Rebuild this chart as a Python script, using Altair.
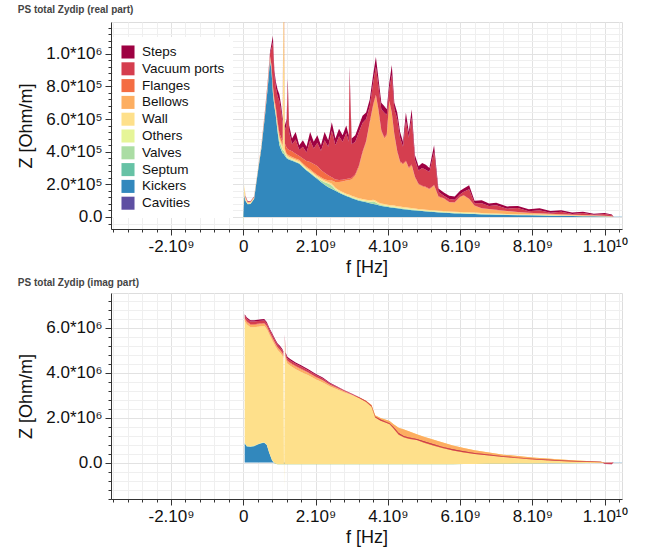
import altair as alt
import pandas as pd

FONT = "Liberation Sans"

stack_order = ["Cavities", "Kickers", "Septum", "Valves", "Others", "Wall",
               "Bellows", "Flanges", "Vacuum ports", "Steps"]
legend_order = ["Steps", "Vacuum ports", "Flanges", "Bellows", "Wall",
                "Others", "Valves", "Septum", "Kickers", "Cavities"]
palette = ["#9e0142", "#d53e4f", "#f46d43", "#fdae61", "#fee08b",
           "#e6f598", "#abdda4", "#66c2a5", "#3288bd", "#5e4fa2"]

# ---------------- real part (values in kOhm/m), frequency in GHz ----------------
re_freq = [0.0, 0.01, 0.03, 0.06, 0.12, 0.2, 0.3, 0.4, 0.5, 0.6, 0.68, 0.74, 0.78, 0.82, 0.86, 0.9,
           0.95, 1.0, 1.05, 1.09, 1.12, 1.15, 1.2, 1.23, 1.27, 1.35, 1.45, 1.55, 1.65, 1.75, 1.85,
           1.95, 2.05, 2.15, 2.25, 2.35, 2.45, 2.55, 2.65, 2.75, 2.85, 2.92, 2.94, 3.0, 3.1, 3.2,
           3.3, 3.4, 3.5, 3.6, 3.67, 3.74, 3.82, 3.9, 3.97, 4.04, 4.11, 4.18, 4.26, 4.34, 4.42,
           4.5, 4.58, 4.66, 4.75, 4.85, 4.95, 5.05, 5.15, 5.28, 5.4, 5.55, 5.7, 5.85, 6.0, 6.1,
           6.25, 6.4, 6.6, 6.8, 7.0, 7.3, 7.6, 7.9, 8.2, 8.5, 8.8, 9.1, 9.4, 9.7, 10.0, 10.2,
           10.25, 10.48]
re_cavities = [0, 0, 0, 0, 0, 0, 0, 0, 0, 0, 0, 0, 0, 0, 0, 0, 0, 0, 0, 0, 0, 0, 0, 0, 0, 0, 0, 0, 0, 0, 0,
               0, 0, 0, 0, 0, 0, 0, 0, 0, 0, 0, 0, 0, 0, 0, 0, 0, 0, 0, 0, 0, 0, 0, 0, 0, 0, 0, 0, 0, 0,
               0, 0, 0, 0, 0, 0, 0, 0, 0, 0, 0, 0, 0, 0, 0, 0, 0, 0, 0, 0, 0, 0, 0, 0, 0, 0, 0, 0, 0, 0,
               0, 0, 0]
re_kickers = [0, 40, 135, 100, 78, 80, 110, 270, 420, 620, 800, 960, 900, 760, 680, 620,
              520, 440, 410, 390, 385, 375, 360, 355, 350, 345, 335, 326, 305, 285, 268,
              250, 232, 214, 197, 182, 172, 160, 148, 138, 128, 122, 121, 115, 107, 100,
              95, 90, 84, 79, 76, 72, 68, 65, 62, 59, 57, 55, 53, 51, 48,
              46, 44, 42, 40, 38, 36, 34, 32, 30, 28, 26, 24, 22, 21, 20,
              19, 18, 16, 15, 14, 12, 11, 10, 9, 8, 7, 6, 5, 4, 3, 2,
              2, 2]
re_septum = [0, 0, 1, 1, 1, 1, 1, 1, 1, 1, 1, 1, 1, 1, 1, 1, 1, 1, 1, 1, 1, 1, 1, 1, 1, 1, 1, 1, 1, 1, 1,
             1, 1, 1, 1, 1, 1, 1, 1, 1, 1, 1, 1, 1, 1, 1, 1, 1, 1, 1, 1, 1, 1, 1, 1, 1, 1, 1, 1, 1, 1,
             1, 1, 1, 1, 1, 1, 1, 1, 1, 1, 1, 1, 1, 1, 1, 1, 1, 1, 1, 1, 1, 1, 1, 1, 0, 0, 0, 0, 0, 0, 0,
             0, 0]
re_valves = [0, 0, 0, 0, 0, 0, 0, 0, 0, 0, 0, 0, 0, 0, 0, 10, 20, 25, 25, 20, 20, 15, 8, 6, 5, 4, 4, 4, 4, 4, 5,
             5, 6, 10, 15, 22, 20, 8, 5, 4, 4, 4, 4, 4, 4, 4, 4, 5, 8, 15, 12, 6, 4, 4, 4, 4, 4, 4, 3, 3, 3,
             3, 3, 3, 3, 2, 2, 2, 2, 2, 2, 2, 2, 2, 2, 2, 2, 2, 1, 1, 1, 1, 1, 1, 1, 1, 1, 0, 0, 0, 0, 0,
             0, 0]
re_others = [-55, 1, 8, 3, 2, 2, 2, 2, 2, 2, 2, 2, 2, 3, 3, 3, 3, 3, 3, 3, 3, 3, 2, 2, 2, 2, 2, 2, 2, 2, 2,
             2, 2, 2, 2, 2, 2, 2, 2, 2, 2, 2, 2, 2, 2, 2, 2, 2, 2, 2, 2, 2, 2, 2, 2, 2, 2, 2, 2, 2, 2,
             2, 2, 2, 2, 2, 2, 2, 2, 2, 2, 2, 2, 2, 2, 2, 2, 2, 2, 2, 2, 1, 1, 1, 1, 1, 1, 1, 1, 1, 1, 0,
             0, 0]
re_wall = [0, 8, 55, 12, 6, 6, 6, 6, 7, 8, 10, 10, 12, 14, 14, 14, 14, 14, 14, 14, 1200, 14, 10, 10, 10, 8, 8, 8, 8, 8, 8,
           8, 8, 8, 8, 8, 8, 8, 8, 8, 8, 8, 8, 8, 8, 8, 8, 8, 8, 8, 8, 8, 8, 8, 8, 8, 8, 8, 7, 7, 7,
           7, 7, 7, 6, 6, 6, 6, 6, 6, 5, 5, 5, 5, 5, 5, 5, 4, 4, 4, 4, 4, 3, 3, 3, 3, 2, 2, 2, 2, 1, 1,
           0, 0]
re_bellows = [0, 0, 0, 5, 4, 3, 3, 3, 4, 5, 6, 6, 8, 10, 10, 12, 12, 12, 12, 12, 12, 12, 8, 8, 8, 8, 8, 8, 8, 8, 8,
              8, 8, 8, 8, 10, 20, 35, 50, 65, 80, 88, 90, 100, 130, 190, 280, 350, 470, 580, 640, 560, 440, 400, 420, 630, 560, 430, 330, 270, 260,
              280, 240, 260, 190, 150, 140, 135, 125, 150, 85, 75, 55, 55, 90, 100, 80, 40, 28, 24, 20, 16, 12, 9, 7, 6, 5, 4, 3, 2, 2, 1,
              0, 0]
re_flanges = [0, 0, 2, 2, 2, 1, 1, 1, 2, 3, 4, 5, 10, 15, 15, 15, 15, 20, 20, 25, 25, 30, 35, 35, 35, 35, 30, 25, 30, 35, 45,
              50, 55, 45, 40, 30, 20, 15, 12, 10, 10, 10, 10, 10, 10, 10, 10, 10, 10, 10, 10, 10, 8, 8, 8, 8, 8, 8, 8, 6, 6,
              6, 6, 6, 5, 5, 5, 5, 5, 5, 4, 4, 3, 3, 3, 3, 3, 3, 2, 2, 2, 2, 2, 1, 1, 1, 1, 1, 1, 1, 1, 0,
              0, 0]
re_vacuum = [0, 1, 1, 4, 2, 1, 0, 0, 2, 7, 11, 16, 97, 267, 147, 120, 155, 195, 155, 105, 100, 80, 141, 393, 109, 42, 87, 36, 72, 52, 133,
             96, 143, 117, 199, 175, 287, 211, 269, 232, 282, 225, 644, 205, 198, 205, 175, 134, 97, 135, 171, 141, 129, 152, 120, 68, 230, 152, 196, 145, 103,
             245, 182, 289, 103, 81, 108, 105, 102, 204, 28, 15, 18, 15, 16, 22, 58, 14, 30, 18, 28, 14, 24, 9, 19, 6, 15, 4, 12, 3, 10, 7,
             0, 0]
re_steps = [0, 0, 2, 3, 3, 2, 2, 2, 2, 4, 6, 10, 30, 40, 30, 35, 40, 40, 40, 30, 30, 30, 35, 40, 40, 35, 45, 30, 40, 35, 50,
            40, 45, 35, 50, 40, 50, 40, 45, 40, 45, 40, 40, 35, 40, 40, 45, 40, 40, 50, 60, 50, 40, 40, 35, 40, 60, 40, 40, 35, 30,
            50, 35, 50, 30, 25, 30, 30, 25, 40, 20, 20, 20, 20, 20, 20, 25, 15, 18, 15, 15, 14, 13, 12, 12, 11, 10, 9, 8, 7, 6, 5,
            0, 0]

# ---------------- imaginary part (values in kOhm/m), frequency in GHz ----------------
im_freq = [0.04, 0.1, 0.2, 0.3, 0.4, 0.5, 0.58, 0.65, 0.72, 0.8, 0.88, 0.95, 1.02, 1.08, 1.11, 1.13,
           1.15, 1.17, 1.22, 1.3, 1.45, 1.6, 1.8, 2.0, 2.2, 2.4, 2.6, 2.8, 3.0, 3.2, 3.4, 3.55,
           3.65, 3.8, 3.95, 4.05, 4.15, 4.3, 4.45, 4.6, 4.8, 5.0, 5.25, 5.5, 5.8, 6.1, 6.4, 6.8,
           7.2, 7.6, 8.0, 8.5, 9.0, 9.5, 9.9, 10.0, 10.2, 10.25, 10.48]
im_cavities = [0, 0, 0, 0, 0, 0, 0, 0, 0, 0, 0, 0, 0, 0, 0, 0, 0, 0, 0, 0, 0, 0, 0, 0, 0, 0, 0, 0, 0, 0,
               0, 0, 0, 0, 0, 0, 0, 0, 0, 0, 0, 0, 0, 0, 0, 0, 0, 0, 0, 0, 0, 0, 0, 0, 0, 0, 0, 0, 0]
im_kickers = [850, 720, 700, 730, 800, 860, 880, 780, 420, 80, -40, -60, -60, -60, -60, -60,
              -60, -60, -60, -60, -60, -60, -60, -60, -60, -60, -60, -60, -60, -60, -60, -60,
              -60, -60, -60, -60, -60, -60, -60, -60, -60, -60, -60, -60, -60, -50, -48, -45,
              -40, -35, -30, -25, -20, -15, -10, -5, 0, 10, 10]
im_septum = [10, 10, 10, 10, 10, 10, 10, 10, 10, 10, -10, -20, -20, -20, -20, -20,
             -20, -20, -20, -20, -20, -20, -20, -20, -20, -20, -20, -20, -20, -20, -20, -20,
             -20, -20, -20, -20, -20, -20, -20, -20, -20, -20, -20, -20, -20, -15, -14, -13,
             -12, -10, -10, -8, -6, -5, -4, 0, 0, 0, 0]
im_valves = [5, 5, 5, 5, 5, 5, 5, 5, 5, 5, 3, 0, 0, 0, 0, 0, 0, 0, 0, 0, 0, 0, 0, 0, 0, 0, 0, 0, 0, 0,
             0, 0, 0, 0, 0, 0, 0, 0, 0, 0, 0, 0, 0, 0, 0, 0, 0, 0, 0, 0, 0, 0, 0, 0, 0, 0, 0, 0, 0]
im_others = [5, 5, 5, 5, 5, 5, 5, 5, 5, 5, 3, 0, 0, 0, 0, 0, 0, 0, 0, 0, 0, 0, 0, 0, 0, 0, 0, 0, 0, 0,
             0, 0, 0, 0, 0, 0, 0, 0, 0, 0, 0, 0, 0, 0, 0, 0, 0, 0, 0, 0, 0, 0, 0, 0, 0, 0, 0, 0, 0]
im_wall = [5420, 5400, 5300, 5270, 5220, 5180, 5170, 5140, 5250, 5340, 5234, 5080, 4960, 4830, 4730, -1100,
           5320, 4680, 4480, 4380, 4230, 4110, 3960, 3780, 3640, 3460, 3330, 3200, 3090, 2980, 2830, 2640,
           2180, 2060, 1980, 1930, 1790, 1630, 1550, 1460, 1340, 1230, 1110, 980, 840, 715, 612, 508,
           402, 335, 270, 203, 141, 90, 54, 5, 0, 0, 0]
im_bellows = [100, 100, 100, 100, 100, 100, 100, 100, 100, 100, 100, 100, 100, 100, 100, 0,
              150, 100, 110, 110, 110, 110, 100, 95, 85, 70, 55, 40, 10, -30, -60, -80,
              -100, -120, -130, -150, -180, -310, -350, -330, -260, -265, -270, -250, -225, -200, -170, -135,
              -105, -95, -90, -75, -62, -40, -25, -5, 0, 0, 0]
im_flanges = [30, 30, 30, 30, 30, 30, 30, 30, 30, 30, 30, 30, 30, 30, 30, 0,
              30, 30, 30, 30, 30, 30, 25, 20, 15, 10, 10, 8, 5, 5, 5, 5,
              5, 5, 5, 5, 5, 5, 5, 5, 5, 5, 5, 5, 5, 5, 4, 4,
              4, 3, 3, 2, 2, 1, 1, 0, 0, 0, 0]
im_vacuum = [120, 120, 120, 120, 120, 120, 120, 120, 120, 120, 120, 110, 110, 110, 110, 0,
             200, 110, 100, 100, 100, 100, 90, 85, 75, 60, 45, 35, 30, 30, 30, 30,
             30, 30, 30, 30, 35, 50, 20, 45, 25, 35, 40, 35, 32, 30, 28, 27,
             25, 22, 20, 18, 15, 15, 14, -50, -60, 0, 0]
im_steps = [60, 60, 60, 60, 60, 60, 60, 60, 60, 60, 60, 60, 60, 60, 60, 0,
            80, 60, 60, 60, 60, 60, 55, 50, 45, 30, 20, 17, 15, 15, 15, 15,
            15, 15, 15, 15, 20, 20, 20, 20, 20, 20, 20, 18, 16, 15, 14, 12,
            10, 8, 7, 7, 8, 8, 9, -10, -10, 0, 0]

# ---------------- axis ticks and labels ----------------
x_major = [-2000000000, 0, 2000000000, 4000000000, 6000000000, 8000000000, 10000000000]
x_labels = ["-2.10⁹", "0", "2.10⁹", "4.10⁹", "6.10⁹", "8.10⁹", "1.10¹⁰"]
x_minor_step = 400000000
x_domain = [-3.66e9, 1.048e10]

re_y_major = [0, 200000, 400000, 600000, 800000, 1000000]
re_y_labels = ["0.0", "2.0*10⁵", "4.0*10⁵", "6.0*10⁵", "8.0*10⁵", "1.0*10⁶"]
re_y_minor_step = 40000
re_y_domain = [-73500, 1194000]

im_y_major = [0, 2000000, 4000000, 6000000]
im_y_labels = ["0.0", "2.0*10⁶", "4.0*10⁶", "6.0*10⁶"]
im_y_minor_step = 400000
im_y_domain = [-1620000, 7540000]


def build_table(freq, layers):
    rows = []
    for i, f in enumerate(freq):
        cum = 0.0
        for name in stack_order:
            v = layers[name][i] * 1000.0
            rows.append({"f": f * 1e9, "series": name, "y0": cum, "y1": cum + v})
            cum += v
    return pd.DataFrame(rows)


re_df = build_table(re_freq, {
    "Cavities": re_cavities, "Kickers": re_kickers, "Septum": re_septum, "Valves": re_valves,
    "Others": re_others, "Wall": re_wall, "Bellows": re_bellows, "Flanges": re_flanges,
    "Vacuum ports": re_vacuum, "Steps": re_steps})
im_df = build_table(im_freq, {
    "Cavities": im_cavities, "Kickers": im_kickers, "Septum": im_septum, "Valves": im_valves,
    "Others": im_others, "Wall": im_wall, "Bellows": im_bellows, "Flanges": im_flanges,
    "Vacuum ports": im_vacuum, "Steps": im_steps})


def ticks_between(domain, step):
    start = int(domain[0] // step) * step
    vals = []
    v = start
    while v <= domain[1]:
        if v >= domain[0]:
            vals.append(int(v))
        v += step
    return vals


def axis_for(major, labels, domain, step, title, orient):
    major_s = ",".join(str(m) for m in major)
    label_s = ",".join("'" + l + "'" for l in labels)
    test = "indexof([" + major_s + "], datum.value) >= 0"
    return alt.Axis(
        values=ticks_between(domain, step),
        labelExpr="indexof([" + major_s + "], datum.value) >= 0 ? [" + label_s + "][indexof([" + major_s + "], datum.value)] : ''",
        title=title,
        tickSize={"condition": {"test": test, "value": 6}, "value": 3},
        gridColor={"condition": {"test": test, "value": "#e2e2e2"}, "value": "#efefef"},
        tickColor="#333333", domainColor="#333333", domainWidth=1, tickWidth=1,
        labelFont=FONT, labelFontSize=17, labelColor="#111111", labelPadding=3,
        titleFont=FONT, titleFontSize=18, titleFontWeight="normal", titleColor="#111111",
        titlePadding=4 if orient == "x" else 10,
        labelOverlap=False, labelFlush=False,
    )


def panel(df, title, y_major, y_labels, y_domain, y_step, legend_y, height):
    color = alt.Color(
        "series:N",
        scale=alt.Scale(domain=legend_order, range=palette),
        legend=alt.Legend(
            title=None, orient="none", legendX=2, legendY=legend_y,
            symbolType="square", symbolSize=170, symbolStrokeWidth=0,
            labelFont=FONT, labelFontSize=13.5, labelColor="#111111",
            fillColor="white", padding=8, rowPadding=2.8, labelOffset=7,
        ),
    )
    x = alt.X("f:Q", scale=alt.Scale(domain=x_domain, nice=False, zero=False),
              axis=axis_for(x_major, x_labels, x_domain, x_minor_step, "f [Hz]", "x"))
    y = alt.Y("y1:Q", scale=alt.Scale(domain=y_domain, nice=False, zero=False),
              axis=axis_for(y_major, y_labels, y_domain, y_step, "Z [Ohm/m]", "y"))
    layers = []
    for name in stack_order:
        layers.append(
            alt.Chart(df)
            .transform_filter(alt.datum.series == name)
            .mark_area(clip=True, interpolate="linear")
            .encode(x=x, y=y, y2="y0:Q", color=color)
        )
    return alt.layer(*layers).properties(
        width=511, height=height,
        title=alt.TitleParams(title, anchor="start", font=FONT, fontSize=10, fontWeight="bold",
                              color="#444444", offset=4),
    )


top = panel(re_df, "PS total Zydip (real part)", re_y_major, re_y_labels, re_y_domain,
            re_y_minor_step, 15, 207)
bottom = panel(im_df, "PS total Zydip (imag part)", im_y_major, im_y_labels, im_y_domain,
               im_y_minor_step, 12, 206)

chart = alt.vconcat(top, bottom, spacing=0).configure_view(stroke="#ececec").configure(
    padding={"left": 17, "top": 4, "right": 5, "bottom": 4}, background="white")

chart.save("out.html", embed_options={"renderer": "svg", "actions": False})
